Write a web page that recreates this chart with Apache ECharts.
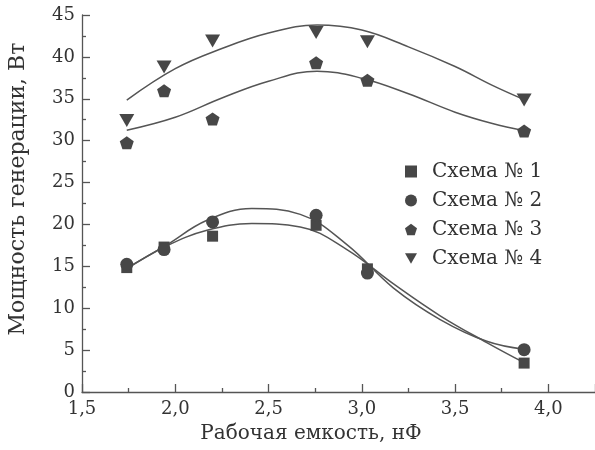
<!DOCTYPE html>
<html>
<head>
<meta charset="utf-8">
<script src="https://cdn.jsdelivr.net/npm/echarts@6/dist/echarts.min.js"></script>
<style>
  html, body { margin: 0; padding: 0; background: #fff; }
  #chart { width: 595px; height: 450px; }
</style>
</head>
<body>
<div id="chart"></div>
<script>
// измеренные точки
const capacitance = [1.74, 1.94, 2.20, 2.755, 3.03, 3.87]
const scheme1 = [14.85, 17.3, 18.6, 19.9, 14.7, 3.45]
const scheme2 = [15.25, 17.0, 20.3, 21.1, 14.2, 5.05]
const scheme3 = [29.75, 35.95, 32.6, 39.3, 37.2, 31.15]
const scheme4 = [32.4, 38.8, 41.9, 42.9, 41.8, 34.85]

// аппроксимирующие кривые
const fitLowX = [1.74, 1.95, 2.17, 2.41, 2.67, 2.92, 3.17, 3.42, 3.67, 3.87]
const fit1 = [14.7, 17.4, 19.3, 20.1, 19.7, 17.0, 12.9, 9.1, 5.9, 3.5]
const fit2 = [14.8, 17.5, 20.5, 21.9, 21.2, 17.6, 12.4, 8.65, 6.05, 5.1]
const fitHighX = [1.74, 2.0, 2.25, 2.5, 2.76, 3.0, 3.25, 3.5, 3.7, 3.87]
const fit3 = [31.25, 32.8, 35.1, 37.1, 38.3, 37.45, 35.6, 33.4, 32.05, 31.2]
const fit4 = [34.85, 38.6, 41.0, 42.85, 43.8, 43.2, 41.2, 38.85, 36.6, 34.9]

const legendNames = ['Схема № 1', 'Схема № 2', 'Схема № 3', 'Схема № 4']

const pentagon = 'path://M1,0 L1.951,0.691 L1.588,1.809 L0.412,1.809 L0.049,0.691 Z'
const triangleDown = 'path://M0,0 L2,0 L1,1.732 Z'

const font = 'DejaVu Serif'
const textColor = '#333'
const markColor = '#474747'
const lineColor = '#555'

const pairs = (xs, ys) => xs.map((x, i) => [x, ys[i]])

const fitLine = (xs, ys) => ({
  type: 'line',
  data: pairs(xs, ys),
  smooth: 0.4,
  showSymbol: false,
  silent: true,
  lineStyle: { color: lineColor, width: 1.5 },
  z: 1
})

const dots = (name, ys, symbol, size) => ({
  type: 'scatter',
  name: name,
  data: pairs(capacitance, ys),
  symbol: symbol,
  symbolSize: size,
  itemStyle: { color: markColor, opacity: 1 },
  z: 3
})

const chart = echarts.init(document.getElementById('chart'))
chart.setOption({
  animation: false,
  backgroundColor: '#fff',
  textStyle: { fontFamily: font, color: textColor },
  grid: { left: 82, top: 15, right: 0, bottom: 58 },
  legend: {
    orient: 'vertical',
    left: 405,
    top: 157,
    padding: 0,
    itemGap: 0,
    itemWidth: 12,
    itemHeight: 12,
    data: legendNames,
    textStyle: { fontFamily: font, fontSize: 20, color: textColor, lineHeight: 29, padding: [0, 0, 0, 10] }
  },
  xAxis: {
    type: 'value',
    min: 1.5,
    max: 4.25,
    interval: 0.5,
    axisLine: { lineStyle: { color: lineColor, width: 1.3 } },
    axisTick: { inside: true, length: 8, lineStyle: { color: lineColor, width: 1.3 } },
    minorTick: { show: true, splitNumber: 2, length: 4, lineStyle: { color: lineColor, width: 1.3 } },
    splitLine: { show: false },
    axisLabel: {
      fontFamily: font, fontSize: 18, color: textColor, margin: 8, showMaxLabel: false,
      formatter: v => v.toFixed(1).replace('.', ',')
    }
  },
  yAxis: {
    type: 'value',
    min: 0,
    max: 45,
    interval: 5,
    axisLine: { show: true, lineStyle: { color: lineColor, width: 1.3 } },
    axisTick: { show: true, inside: true, length: 8, lineStyle: { color: lineColor, width: 1.3 } },
    minorTick: { show: true, splitNumber: 2, length: 4, lineStyle: { color: lineColor, width: 1.3 } },
    splitLine: { show: false },
    axisLabel: { fontFamily: font, fontSize: 18, color: textColor, margin: 7 }
  },
  graphic: [
    {
      type: 'text',
      x: 311,
      y: 424,
      style: {
        text: 'Рабочая емкость, нФ', font: '20px "DejaVu Serif"', fill: textColor,
        align: 'center', verticalAlign: 'top'
      }
    },
    {
      type: 'text',
      x: 7,
      y: 189,
      rotation: Math.PI / 2,
      style: {
        text: 'Мощность генерации, Вт', font: '22px "DejaVu Serif"', fill: textColor,
        align: 'center', verticalAlign: 'top'
      }
    }
  ],
  series: [
    fitLine(fitLowX, fit1),
    fitLine(fitLowX, fit2),
    fitLine(fitHighX, fit3),
    fitLine(fitHighX, fit4),
    dots(legendNames[0], scheme1, 'rect', 11),
    dots(legendNames[1], scheme2, 'circle', 13),
    dots(legendNames[2], scheme3, pentagon, [14, 13]),
    dots(legendNames[3], scheme4, triangleDown, [15, 13])
  ]
})
</script>
</body>
</html>
